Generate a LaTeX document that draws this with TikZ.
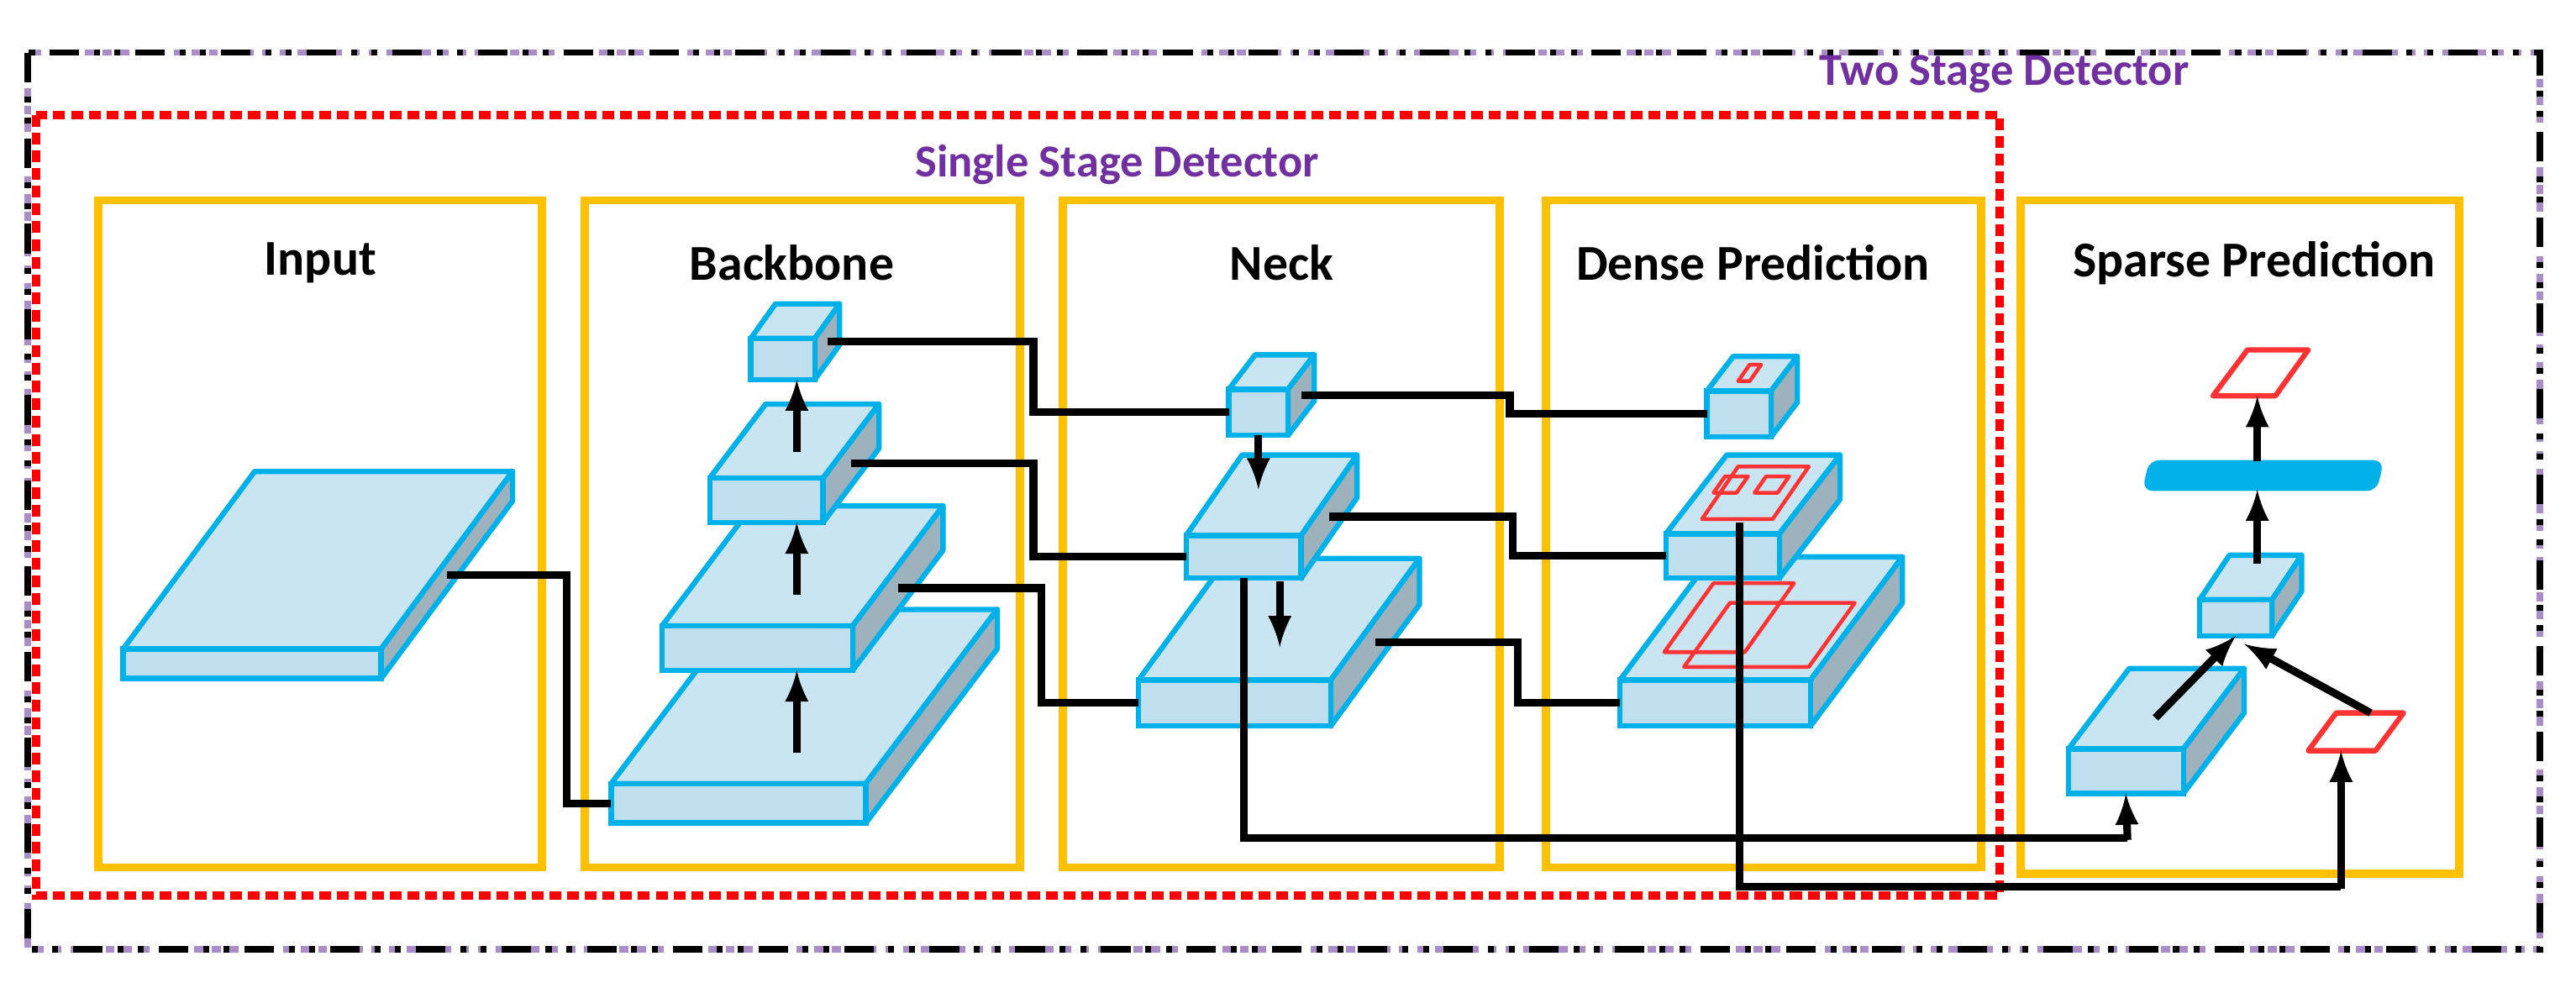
\documentclass[tikz,border=0pt]{standalone}
\usepackage{fontspec}
\setmainfont{Carlito}
\usetikzlibrary{arrows,calc}
\definecolor{slabblue}{RGB}{192,223,238}
\definecolor{slabtopc}{RGB}{202,229,242}
\definecolor{slabgray}{RGB}{158,178,190}
\definecolor{slabline}{RGB}{0,176,232}
\definecolor{boxorange}{RGB}{255,192,0}
\definecolor{titlepurple}{RGB}{112,48,160}
\definecolor{dotpurple}{RGB}{170,140,200}
% slab: name, x, y (front top-left), width, height, depth dx, depth dy
\newcommand{\slab}[7]{%
  \filldraw[slabt] (#2,#3) -- ++(#6,-#7) -- ++(#4,0) -- ++(-#6,#7) -- cycle;
  \filldraw[slabs] (#2+#4,#3) -- ++(#6,-#7) -- ++(0,#5) -- ++(-#6,#7) -- cycle;
  \filldraw[slabf] (#2,#3) rectangle ++(#4,#5);
  \coordinate (#1-w) at (#2,#3+#5/2);
  \coordinate (#1-e) at (#2+#4+#6/2,#3+#5/2-#7/2);
  \coordinate (#1-b) at (#2+#4/2,#3+#5);
  \coordinate (#1-t) at (#2+#4/2+#6/2,#3-#7/2);
}
\begin{document}
\begin{tikzpicture}[x=0.1955mm,y=-0.1955mm,
  slabt/.style={fill=slabtopc,draw=slabline,line width=1.8pt,line join=round},
  slabs/.style={fill=slabgray,draw=slabline,line width=1.8pt,line join=round},
  slabf/.style={fill=slabblue,draw=slabline,line width=1.8pt},
  stage/.style={draw=boxorange,line width=2.8pt},
  conn/.style={draw=black,line width=2.6pt},
  arr/.style={draw=black,line width=2.6pt,-latex},
  redbox/.style={draw=red!80,line width=1.3pt,line join=round},
  title/.style={font=\fontsize{17}{20}\selectfont\bfseries},
  ptitle/.style={font=\fontsize{15.5}{18}\selectfont\bfseries,text=titlepurple}]
\useasboundingbox (0,0) rectangle (1568,604.5);
% detector frames
\draw[dotpurple,line width=2.2pt,dash pattern=on 3pt off 3pt] (17,32) rectangle (1546,578);
\draw[black,line width=2.2pt,dash pattern=on 10pt off 5pt on 2pt off 5pt on 2pt off 5pt] (17,32) rectangle (1546,578);
\draw[red,line width=2.8pt,dash pattern=on 4pt off 2pt] (22,70) rectangle (1217,545);
\node[ptitle] (twostage) at (1220,45) {Two Stage Detector};
\node[ptitle] (onestage) at (680,100) {Single Stage Detector};
% stage boxes
\draw[stage] (60,122) rectangle (330,528);
\draw[stage] (356,122) rectangle (621,528);
\draw[stage] (647,122) rectangle (913,528);
\draw[stage] (941,122) rectangle (1206,528);
\draw[stage] (1230,122) rectangle (1497,532);
\node[title] (tin) at (195,160) {Input};
\node[title] (tbb) at (482,160) {Backbone};
\node[title] (tnk) at (780,160) {Neck};
\node[title] (tdp) at (1067,160) {Dense Prediction};
\node[title] (tsp) at (1372,160) {Sparse Prediction};
% input
\slab{inp}{75}{395}{157}{18}{80}{108}
% backbone
\slab{bb1}{372}{477}{155}{24}{80}{106}
\slab{bb2}{403}{381}{116}{27}{55}{73}
\slab{bb3}{432}{291}{69}{27}{34}{45}
\slab{bb4}{457}{206}{39}{25}{15}{21}
\coordinate (upx) at (485,0);
\draw[arr] (485,458) -- (bb2-b -| upx);
\draw[arr] (485,362) -- (bb3-b -| upx);
\draw[arr] (485,275) -- (bb4-b -| upx);
% neck
\slab{nk3}{693}{414}{117}{28}{54}{74}
\slab{nk2}{722}{326}{70}{26}{34}{49}
\slab{nk1}{748}{237}{36}{28}{16}{21}
\draw[arr] (nk1-b) -- (766,298);
\draw[arr] (779,354) -- (779,394);
% dense prediction
\slab{dp3}{986}{414}{116}{28}{56}{75}
\slab{dp2}{1014}{325}{69}{27}{37}{48}
\slab{dp1}{1039}{238}{39}{28}{16}{21}
\draw[redbox] (1058,232) -- (1065,232) -- (1072,222) -- (1065,222) -- cycle;
\draw[redbox] (1036,316) -- (1079,316) -- (1101,284) -- (1058,284) -- cycle;
\draw[redbox] (1043,300) -- (1057,300) -- (1064,290) -- (1050,290) -- cycle;
\draw[redbox] (1068,300) -- (1082,300) -- (1089,290) -- (1075,290) -- cycle;
\draw[redbox] (1013,397) -- (1062,397) -- (1092,355) -- (1043,355) -- cycle;
\draw[redbox] (1025,406) -- (1101,406) -- (1129,367) -- (1053,367) -- cycle;
% sparse prediction
\slab{sp1}{1259}{456}{70}{27}{37}{49}
\slab{sp2}{1339}{365}{44}{22}{18}{27}
\filldraw[fill=slabline,draw=slabline,line width=1pt,rounded corners=3pt]
  (1305,298) -- (1446,298) -- (1450,281) -- (1309,281) -- cycle;
\coordinate (bar-b) at (1374,298);
\coordinate (bar-t) at (1374,281);
\draw[redbox,line width=1.8pt] (1347,241) -- (1385,241) -- (1405,213) -- (1368,213) -- cycle;
\coordinate (rt-b) at (1374,241);
\draw[redbox,line width=1.8pt] (1405,457) -- (1446,457) -- (1463,434) -- (1422,434) -- cycle;
\coordinate (rs-b) at (1425,457);
\coordinate (rs-t) at (1443,434);
\draw[arr] (1312,437) -- (sp2-b);
\draw[arr] (rs-t) -- (1366,392);
\draw[arr] (1374,343) -- (bar-b);
\draw[arr] (bar-t) -- (rt-b);
% connectors
\coordinate (s1) at (345,0);
\coordinate (s2) at (629,0);
\coordinate (s3) at (634,0);
\coordinate (s4) at (919,0);
\coordinate (s5) at (921,0);
\coordinate (s6) at (924,0);
\draw[conn] (inp-e) -- (inp-e -| s1) |- (bb1-w);
\draw[conn] (bb4-e) -- (bb4-e -| s2) |- (nk1-w);
\draw[conn] (bb3-e) -- (bb3-e -| s2) |- (nk2-w);
\draw[conn] (bb2-e) -- (bb2-e -| s3) |- (nk3-w);
\draw[conn] (nk1-e) -- (nk1-e -| s4) |- (dp1-w);
\draw[conn] (nk2-e) -- (nk2-e -| s5) |- (dp2-w);
\draw[conn] (nk3-e) -- (nk3-e -| s6) |- (dp3-w);
\draw[conn] (nk2-b) |- (1295,510);
\draw[arr] (1295,511.3) -- (sp1-b);
\draw[conn] (1059,318) |- (1425,540);
\draw[arr] (1425,541.3) -- (rs-b);
\end{tikzpicture}
\end{document}
